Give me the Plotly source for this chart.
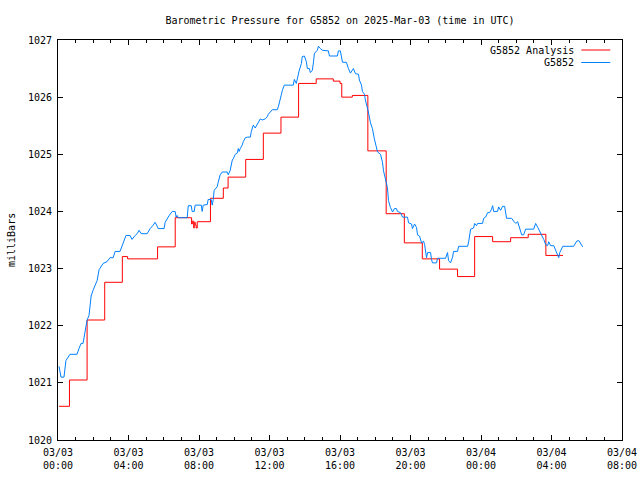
import pandas as pd
import plotly.graph_objects as go

# Hours after 2025-03-03 00:00 UTC
analysis_hours = [0.06, 0.65, 1.65, 2.65, 3.65, 3.95, 5.65, 6.65, 7.5, 7.58, 7.62, 7.7, 7.73,
                  7.79, 7.84, 7.9, 8.65, 9.38, 9.65, 10.65, 11.65, 12.65, 13.65, 14.65, 15.62,
                  16.0, 16.1, 16.7, 17.58, 18.62, 19.65, 20.67, 21.65, 22.67, 23.64, 24.66,
                  25.68, 26.68, 27.68, 28.65]
analysis_mb = [1020.59, 1021.05, 1022.1, 1022.76, 1023.21, 1023.17, 1023.38, 1023.89, 1023.89,
               1023.78, 1023.83, 1023.71, 1023.81, 1023.76, 1023.71, 1023.82, 1024.23, 1024.41,
               1024.6, 1024.91, 1025.37, 1025.65, 1026.24, 1026.32, 1026.28, 1026.24, 1026.0,
               1026.03, 1025.06, 1023.96, 1023.45, 1023.17, 1022.99, 1022.86, 1023.56, 1023.47,
               1023.54, 1023.6, 1023.23, 1023.23]

obs_hours = [0.06, 0.17, 0.34, 0.40, 0.45, 0.68, 1.08, 1.19, 1.31, 1.42, 1.48, 1.53, 1.65, 1.76,
             1.82, 1.88, 1.99, 2.22, 2.33, 2.56, 2.78, 2.95, 3.13, 3.24, 3.52, 3.64, 3.75, 3.86,
             4.09, 4.20, 4.38, 4.49, 4.60, 4.72, 5.06, 5.23, 5.40, 5.51, 5.63, 5.68, 6.02, 6.08,
             6.31, 6.48, 6.65, 6.70, 6.76, 6.82, 7.33, 7.36, 7.39, 7.56, 7.61, 7.73, 7.78, 8.13,
             8.18, 8.24, 8.47, 8.52, 8.69, 8.75, 8.81, 8.86, 9.03, 9.09, 9.20, 9.32, 9.60, 9.66,
             9.77, 9.89, 9.94, 10.06, 10.17, 10.23, 10.28, 10.34, 10.45, 10.51, 10.63, 10.74,
             10.91, 10.97, 11.02, 11.08, 11.19, 11.31, 11.36, 11.48, 11.59, 11.76, 11.88, 11.93,
             12.16, 12.44, 12.50, 12.56, 12.61, 12.67, 12.73, 12.84, 13.35, 13.41, 13.52, 13.58,
             13.69, 13.81, 13.86, 13.98, 14.09, 14.15, 14.26, 14.32, 14.43, 14.49, 14.55, 14.72,
             14.77, 14.89, 15.00, 15.34, 15.40, 15.85, 15.91, 16.02, 16.08, 16.14, 16.36, 16.42,
             16.48, 16.59, 16.70, 16.76, 16.88, 17.05, 17.10, 17.22, 17.27, 17.39, 17.44, 17.56,
             17.61, 17.73, 17.84, 17.95, 18.07, 18.13, 18.30, 18.41, 18.47, 18.58, 18.69, 18.75,
             18.86, 18.98, 19.09, 19.20, 19.26, 19.43, 19.55, 19.83, 19.89, 20.06, 20.11, 20.23,
             20.34, 20.40, 20.51, 20.63, 20.74, 20.80, 20.85, 20.91, 20.97, 21.14, 21.19, 21.25,
             21.48, 21.53, 21.99, 22.10, 22.16, 22.27, 22.39, 22.44, 22.67, 22.73, 23.24, 23.30,
             23.41, 23.58, 23.64, 23.75, 23.81, 24.09, 24.15, 24.26, 24.38, 24.49, 24.60, 24.66,
             24.72, 24.94, 25.00, 25.11, 25.23, 25.34, 25.45, 25.74, 25.85, 25.97, 26.08, 26.19,
             26.31, 26.42, 26.53, 26.99, 27.10, 27.22, 27.33, 27.44, 27.56, 27.67, 27.78, 27.84,
             27.95, 28.13, 28.24, 28.35, 28.41, 28.47, 28.64, 29.26, 29.43, 29.55, 29.66, 29.77]
obs_mb = [1021.29, 1021.10, 1021.10, 1021.30, 1021.39, 1021.50, 1021.50, 1021.60, 1021.69,
          1021.69, 1021.80, 1021.92, 1022.10, 1022.18, 1022.32, 1022.52, 1022.62, 1022.79,
          1022.98, 1023.09, 1023.12, 1023.19, 1023.19, 1023.30, 1023.30, 1023.40, 1023.46,
          1023.58, 1023.58, 1023.51, 1023.58, 1023.61, 1023.67, 1023.61, 1023.61, 1023.70,
          1023.76, 1023.81, 1023.74, 1023.70, 1023.70, 1023.81, 1023.93, 1024.00, 1024.00,
          1023.90, 1023.93, 1023.89, 1023.89, 1024.00, 1024.10, 1024.10, 1024.00, 1024.00,
          1024.11, 1024.11, 1024.00, 1024.11, 1024.12, 1024.21, 1024.21, 1024.11, 1024.21,
          1024.37, 1024.43, 1024.51, 1024.64, 1024.69, 1024.69, 1024.64, 1024.72, 1024.90,
          1024.92, 1025.00, 1025.02, 1025.10, 1025.05, 1025.10, 1025.16, 1025.22, 1025.29,
          1025.30, 1025.30, 1025.40, 1025.45, 1025.51, 1025.46, 1025.53, 1025.57, 1025.62,
          1025.60, 1025.62, 1025.66, 1025.70, 1025.78, 1025.78, 1025.83, 1025.89, 1025.98,
          1026.04, 1026.12, 1026.21, 1026.21, 1026.31, 1026.24, 1026.33, 1026.47, 1026.59,
          1026.71, 1026.72, 1026.62, 1026.50, 1026.50, 1026.43, 1026.47, 1026.60, 1026.77,
          1026.82, 1026.89, 1026.85, 1026.82, 1026.81, 1026.72, 1026.72, 1026.81, 1026.81,
          1026.70, 1026.61, 1026.61, 1026.54, 1026.50, 1026.42, 1026.47, 1026.50, 1026.41,
          1026.40, 1026.30, 1026.21, 1026.10, 1026.05, 1025.95, 1025.83, 1025.74, 1025.55,
          1025.45, 1025.27, 1025.12, 1025.04, 1025.00, 1024.86, 1024.71, 1024.54, 1024.42,
          1024.19, 1024.07, 1023.99, 1024.05, 1024.05, 1024.00, 1023.98, 1023.90, 1023.90,
          1023.80, 1023.78, 1023.70, 1023.78, 1023.72, 1023.59, 1023.57, 1023.45, 1023.48,
          1023.42, 1023.28, 1023.19, 1023.28, 1023.28, 1023.16, 1023.10, 1023.10, 1023.18,
          1023.18, 1023.28, 1023.14, 1023.10, 1023.20, 1023.30, 1023.30, 1023.39, 1023.39,
          1023.47, 1023.69, 1023.71, 1023.79, 1023.75, 1023.79, 1023.79, 1023.88, 1023.90,
          1023.98, 1023.98, 1024.04, 1024.10, 1024.00, 1024.00, 1024.08, 1024.02, 1024.09,
          1024.09, 1023.88, 1023.88, 1023.83, 1023.79, 1023.82, 1023.71, 1023.59, 1023.59,
          1023.69, 1023.69, 1023.79, 1023.72, 1023.66, 1023.59, 1023.51, 1023.42, 1023.40,
          1023.47, 1023.40, 1023.40, 1023.31, 1023.25, 1023.19, 1023.28, 1023.39, 1023.39,
          1023.48, 1023.49, 1023.42, 1023.38]

tick_times = ["2025-03-03 00:00", "2025-03-03 04:00", "2025-03-03 08:00", "2025-03-03 12:00",
              "2025-03-03 16:00", "2025-03-03 20:00", "2025-03-04 00:00", "2025-03-04 04:00",
              "2025-03-04 08:00"]
tick_labels = ["03/03<br>00:00", "03/03<br>04:00", "03/03<br>08:00", "03/03<br>12:00",
               "03/03<br>16:00", "03/03<br>20:00", "03/04<br>00:00", "03/04<br>04:00",
               "03/04<br>08:00"]
y_ticks = [1020, 1021, 1022, 1023, 1024, 1025, 1026, 1027]

base = pd.Timestamp("2025-03-03 00:00")
a_t = base + pd.to_timedelta(analysis_hours, unit="h")
o_t = base + pd.to_timedelta(obs_hours, unit="h")

RED = "#ff0000"
BLUE = "#0080ff"
FONT = "DejaVu Sans Mono"

fig = go.Figure()
fig.add_trace(go.Scatter(x=a_t, y=analysis_mb, mode="lines", line=dict(color=RED, width=1, shape="hv"),
                         name="G5852 Analysis"))
fig.add_trace(go.Scatter(x=o_t, y=obs_mb, mode="lines", line=dict(color=BLUE, width=1),
                         name="G5852"))

axis_common = dict(showline=True, linecolor="black", linewidth=1, mirror="ticks",
                   ticks="inside", tickcolor="black", showgrid=False, zeroline=False,
                   automargin=False,
                   tickfont=dict(family=FONT, size=10, color="black"))

fig.update_xaxes(type="date", range=[tick_times[0], tick_times[-1]], tickvals=tick_times,
                 ticktext=tick_labels, ticklen=5, ticklabelstandoff=3,
                 minor=dict(dtick=3600000, ticks="inside", ticklen=3, tickcolor="black", showgrid=False),
                 **axis_common)
fig.update_yaxes(range=[1020, 1027], tickvals=y_ticks, ticktext=[str(v) for v in y_ticks],
                 ticklen=5, ticklabelstandoff=3, **axis_common)

fig.update_layout(
    width=640, height=480,
    margin=dict(l=58, r=18, t=40, b=40, pad=0),
    paper_bgcolor="white", plot_bgcolor="white",
    showlegend=False,
    hovermode=False,
    font=dict(family=FONT, size=10, color="black"),
    title=dict(text="Barometric Pressure for G5852 on 2025-Mar-03 (time in UTC)",
               x=0.5, xref="paper", y=1 - 20 / 480, yref="container", yanchor="middle",
               font=dict(family=FONT, size=10, color="black")),
)

# y-axis label
fig.add_annotation(text="milliBars", xref="paper", yref="paper", x=0, y=0.5, xshift=-47,
                   xanchor="center", yanchor="middle",
                   textangle=-90, showarrow=False, font=dict(family=FONT, size=10, color="black"))

# legend drawn gnuplot-style: text right-aligned, line sample on the right
legend_names = ["G5852 Analysis", "G5852"]
legend_colors = [RED, BLUE]
for i, (nm, col) in enumerate(zip(legend_names, legend_colors)):
    ypx = 50 + i * 12.5
    yp = 1 - (ypx - 40) / 400
    fig.add_annotation(text=nm, xref="paper", yref="paper", x=(576 - 58) / 563.7, y=yp,
                       xanchor="right", yanchor="middle", showarrow=False,
                       font=dict(family=FONT, size=10, color="black"))
    fig.add_shape(type="line", xref="paper", yref="paper", x0=(581 - 58) / 563.7,
                  x1=(610 - 58) / 563.7, y0=yp, y1=yp, line=dict(color=col, width=1))

fig.write_html("out.html", config={"displayModeBar": False, "staticPlot": True},
               post_script="document.body.style.margin='0';document.body.style.padding='0';")
